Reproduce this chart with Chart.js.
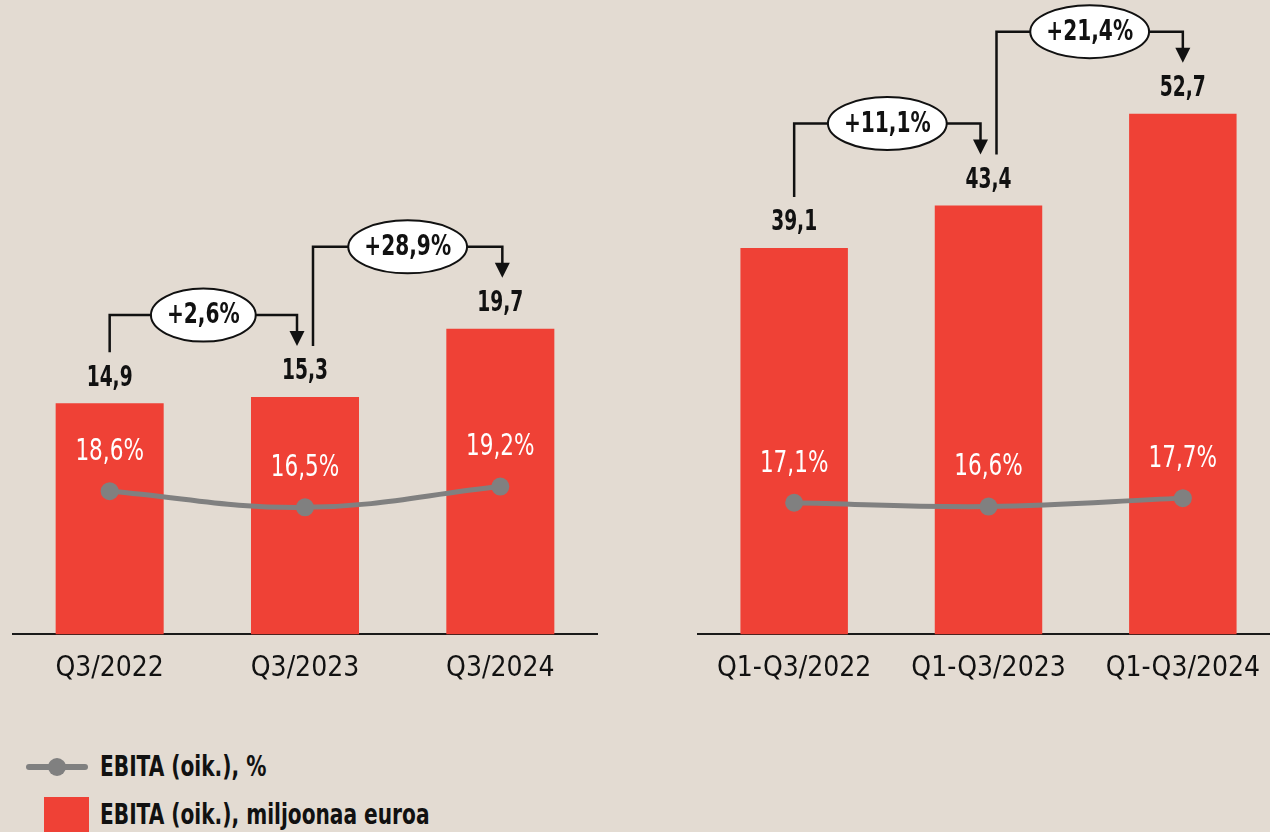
<!DOCTYPE html>
<html>
<head>
<meta charset="utf-8">
<script src="https://cdn.jsdelivr.net/npm/chart.js@4/dist/chart.umd.min.js"></script>
<style>
    html, body { margin: 0; padding: 0; }
    body {
        width: 1270px;
        height: 832px;
        overflow: hidden;
        position: relative;
        background: #e3dbd2;
        font-family: "DejaVu Sans Condensed", "Liberation Sans Narrow", Roboto, sans-serif;
        color: #111;
    }
    canvas { position: absolute; top: 0; }
    #left-chart { left: 12px; }
    #right-chart { left: 697px; }
    .legend-item { position: absolute; left: 26px; height: 40px; }
    .legend-item .txt {
        position: absolute;
        left: 74px;
        top: 0;
        font-size: 28px;
        font-weight: bold;
        line-height: 40px;
        white-space: nowrap;
        transform: scaleX(0.8);
        transform-origin: left center;
    }
    .swatch-line { position: absolute; left: 0; top: 17px; width: 62px; height: 6px; background: #808080; border-radius: 3px; }
    .swatch-line::after { content: ''; position: absolute; left: 22px; top: -6px; width: 18px; height: 18px; border-radius: 50%; background: #808080; }
    .swatch-bar { position: absolute; left: 18px; top: 0; width: 45px; height: 45px; background: #ef4136; }
</style>
</head>
<body>
<canvas id="left-chart" width="586" height="704"></canvas>
<canvas id="right-chart" width="583" height="704"></canvas>

<div class="legend-item" style="top: 747px;"><span class="swatch-line"></span><span class="txt">EBITA (oik.), %</span></div>
<div class="legend-item" style="top: 797px;"><span class="swatch-bar"></span><span class="txt" style="top: -2px;">EBITA (oik.), miljoonaa euroa</span></div>

<script>
// Chart data
const leftLabels = ['Q3/2022', 'Q3/2023', 'Q3/2024'];
const leftEbita = [14.9, 15.3, 19.7];
const leftMargin = [18.6, 16.5, 19.2];
const leftChanges = ['+2,6%', '+28,9%'];

const rightLabels = ['Q1-Q3/2022', 'Q1-Q3/2023', 'Q1-Q3/2024'];
const rightEbita = [39.1, 43.4, 52.7];
const rightMargin = [17.1, 16.6, 17.7];
const rightChanges = ['+11,1%', '+21,4%'];

// Look
const FONT = '"DejaVu Sans Condensed", "Liberation Sans Narrow", Roboto, sans-serif';
const BAR_COLOR = '#ef4136';
const LINE_COLOR = '#808080';
const INK = '#111111';

// Format number with Finnish decimal comma
function fi(v) {
    return v.toFixed(1).replace('.', ',');
}

// Text squeezed horizontally, the source uses a narrow typeface
function narrowText(ctx, text, x, y, sx) {
    ctx.save();
    ctx.translate(x, y);
    ctx.scale(sx, 1);
    ctx.fillText(text, 0, 0);
    ctx.restore();
}

// Draw a change bubble with bracket arrow between two bars
function drawBracket(ctx, x1, y1, x2, y2, level, text) {
    ctx.save();
    ctx.strokeStyle = INK;
    ctx.lineWidth = 2.5;
    ctx.font = 'bold 28px ' + FONT;
    const sx = 0.8;
    const tw = ctx.measureText(text).width * sx;
    const ew = tw + 32;
    const eh = 53;
    const cx = (x1 + x2) / 2;

    // bracket lines
    ctx.beginPath();
    ctx.moveTo(x1, y1);
    ctx.lineTo(x1, level);
    ctx.lineTo(x2, level);
    ctx.lineTo(x2, y2 - 14);
    ctx.stroke();

    // arrow head
    ctx.fillStyle = INK;
    ctx.beginPath();
    ctx.moveTo(x2 - 7.5, y2 - 15);
    ctx.lineTo(x2 + 7.5, y2 - 15);
    ctx.lineTo(x2, y2);
    ctx.closePath();
    ctx.fill();

    // bubble
    ctx.beginPath();
    ctx.ellipse(cx, level, ew / 2, eh / 2, 0, 0, Math.PI * 2);
    ctx.fillStyle = '#ffffff';
    ctx.fill();
    ctx.lineWidth = 2;
    ctx.stroke();

    ctx.fillStyle = INK;
    ctx.textAlign = 'center';
    ctx.textBaseline = 'middle';
    narrowText(ctx, text, cx, level + 1, sx);
    ctx.restore();
}

// Labels and annotations plugin
const labelPlugin = {
    id: 'labels',
    afterDatasetsDraw(chart, args, opts) {
        const ctx = chart.ctx;
        const lineMeta = chart.getDatasetMeta(0);
        const barMeta = chart.getDatasetMeta(1);
        const values = chart.data.datasets[1].data;
        const margins = chart.data.datasets[0].data;

        ctx.save();
        ctx.textAlign = 'center';
        ctx.textBaseline = 'middle';

        // bar values
        ctx.font = 'bold 28px ' + FONT;
        ctx.fillStyle = INK;
        barMeta.data.forEach((bar, i) => {
            narrowText(ctx, fi(values[i]), bar.x, bar.y - 25, 0.74);
        });

        // margin percentages
        ctx.font = '30px ' + FONT;
        ctx.fillStyle = '#ffffff';
        lineMeta.data.forEach((pt, i) => {
            narrowText(ctx, fi(margins[i]) + '%', pt.x, pt.y - 39, 0.8);
        });
        ctx.restore();

        // change bubbles
        opts.changes.forEach((text, i) => {
            const a = barMeta.data[i];
            const b = barMeta.data[i + 1];
            const off = opts.offsets[i];
            const level = Math.min(a.y, b.y) - 82;
            drawBracket(ctx, a.x + off[0], a.y - 51, b.x + off[1], b.y - 51, level, text);
        });
    }
};

// Build one panel
function makePanel(id, labels, ebita, margin, changes, yMax, offsets) {
    const ctx = document.getElementById(id).getContext('2d');
    return new Chart(ctx, {
        type: 'bar',
        data: {
            labels: labels,
            datasets: [{
                type: 'line',
                data: margin,
                yAxisID: 'y2',
                borderColor: LINE_COLOR,
                backgroundColor: LINE_COLOR,
                borderWidth: 5,
                tension: 0.4,
                pointRadius: 9,
                pointBackgroundColor: LINE_COLOR,
                pointBorderWidth: 0,
                order: 0
            }, {
                type: 'bar',
                data: ebita,
                yAxisID: 'y',
                backgroundColor: BAR_COLOR,
                barPercentage: 0.553,
                categoryPercentage: 1,
                order: 1
            }]
        },
        options: {
            responsive: false,
            animation: false,
            layout: { padding: 0, autoPadding: false },
            plugins: {
                legend: { display: false },
                tooltip: { enabled: false },
                labels: { changes: changes, offsets: offsets }
            },
            scales: {
                x: {
                    grid: { display: false, drawTicks: false },
                    border: { color: '#1a1a1a', width: 2 },
                    ticks: {
                        color: INK,
                        padding: 18,
                        font: { family: FONT, size: 28 }
                    }
                },
                y: { display: false, min: 0, max: yMax },
                y2: { display: false, min: 0, max: 82.4 }
            }
        },
        plugins: [labelPlugin]
    });
}

makePanel('left-chart', leftLabels, leftEbita, leftMargin, leftChanges, 40.9, [[0, -8], [8, 2]]);
makePanel('right-chart', rightLabels, rightEbita, rightMargin, rightChanges, 64.2, [[0, -8], [8, 0]]);
</script>
</body>
</html>
